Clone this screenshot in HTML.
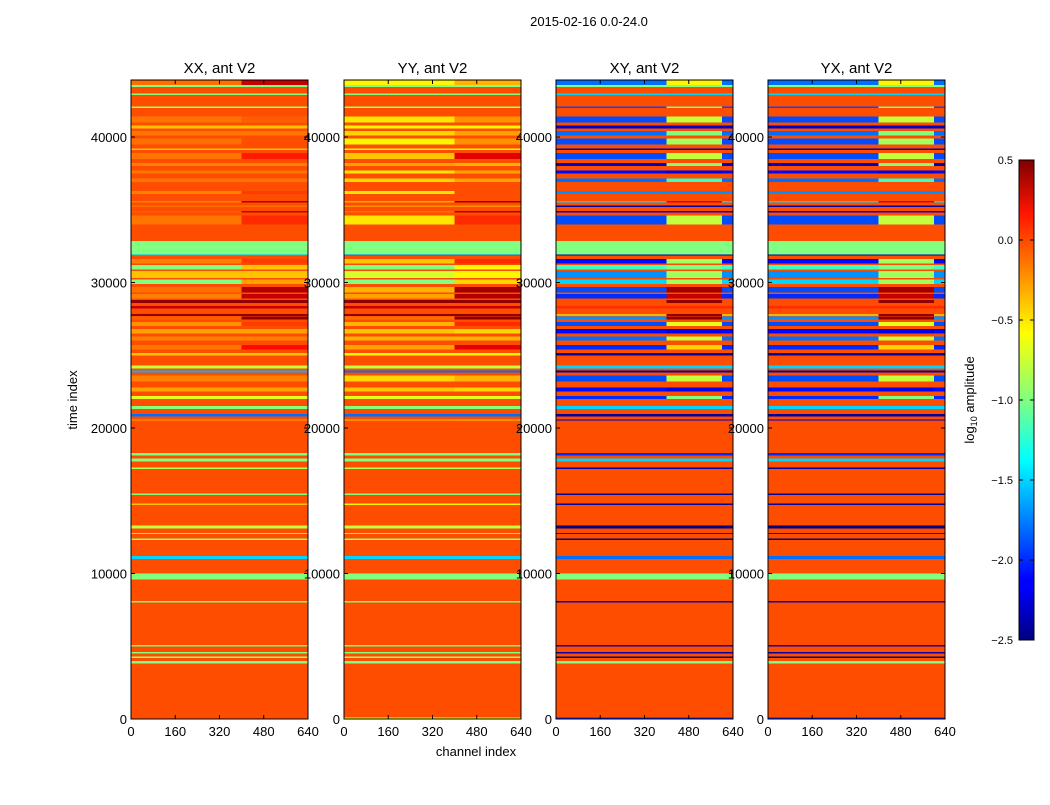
<!DOCTYPE html>
<html><head><meta charset="utf-8"><style>
body{margin:0;background:#fff;width:1050px;height:800px;overflow:hidden;font-family:"Liberation Sans",sans-serif}
svg text{font-family:"Liberation Sans",sans-serif}
</style></head><body>
<svg id="fig" width="1050" height="800" xmlns="http://www.w3.org/2000/svg">
<defs><linearGradient id="jet" x1="0" y1="1" x2="0" y2="0">
<stop offset="0" stop-color="#00007f"/><stop offset="0.11" stop-color="#0000ff"/><stop offset="0.125" stop-color="#0000ff"/>
<stop offset="0.34" stop-color="#00dcff"/><stop offset="0.375" stop-color="#00ffff"/><stop offset="0.5" stop-color="#80ff80"/>
<stop offset="0.64" stop-color="#ffff00"/><stop offset="0.89" stop-color="#ff1400"/><stop offset="1" stop-color="#800000"/></linearGradient></defs>
<text x="589" y="26" font-size="13" text-anchor="middle">2015-02-16 0.0-24.0</text>
<text x="476" y="756" font-size="13" text-anchor="middle">channel index</text>
<text transform="translate(77,400) rotate(-90)" font-size="13" text-anchor="middle">time index</text>
<text transform="translate(974,400) rotate(-90)" font-size="13" text-anchor="middle">log<tspan font-size="9" dy="3">10</tspan><tspan dy="-3"> amplitude</tspan></text>
<g id="panels"></g>
<rect x="1019" y="160" width="15" height="480" fill="url(#jet)" stroke="#000"/>
<g id="cbticks"></g>
</svg>
<script>
const titles=["XX, ant V2","YY, ant V2","XY, ant V2","YX, ant V2"];
const xTicks=[0,160,320,480,640];
const yTicks=[0,10000,20000,30000,40000];
const cbTicks=[0.5,0.0,-0.5,-1.0,-1.5,-2.0,-2.5];
const background=-0.1;
const tStart=[43500,43450,42900,42000,41000,40600,40100,39500,39100,38500,38000,37500,36900,36100,35500,35200,34800,34000,31900,31850,31300,30900,30300,29900,29300,28900,28600,28200,27700,27450,27000,26500,26000,25400,25000,24100,23800,23200,22500,22000,21300,20800,20500,18100,17700,17200,15400,14700,13100,12700,12300,11000,9600,8000,5000,4500,4200,3800,0];
const tEnd=[43920,43560,42990,42100,41400,40800,40400,39900,39200,38900,38200,37700,37150,36300,35600,35300,34900,34600,32850,31920,31600,31200,30800,30200,29700,29200,28800,28400,27850,27650,27300,26800,26300,25700,25150,24300,23950,23600,22800,22200,21500,20950,20600,18300,17900,17300,15500,14800,13300,12800,12400,11200,10000,8100,5100,4600,4300,4000,100];
const xxLeft=[-0.2,-1.0,-1.0,-0.9,-0.22,-0.45,-0.22,-0.2,-0.45,-0.22,-0.25,-0.22,-0.22,-0.25,-0.25,-0.2,-0.15,-0.22,-1.0,-1.6,-0.25,-1.0,-0.45,-1.0,-0.2,-0.25,0.45,0.3,0.45,-0.15,-0.3,-0.35,-0.25,-0.22,-0.45,-0.8,-1.6,-0.25,-0.35,-0.7,-1.0,-1.8,-0.35,-1.0,-1.0,-0.9,-1.0,-0.45,-0.8,-1.0,-0.9,-1.5,-1.0,-1.0,-1.0,-1.0,-0.9,-1.0,-0.1];
const xxRight=[0.3,-1.0,-1.0,-0.9,-0.15,-0.45,-0.22,-0.1,-0.45,0.05,-0.25,-0.22,-0.22,-0.05,0.35,-0.2,0.3,0.0,-1.0,-1.6,-0.05,-0.45,-0.45,-0.35,0.35,0.3,0.45,0.3,0.45,0.45,-0.05,-0.35,-0.25,0.1,-0.45,-0.8,-1.6,-0.25,-0.35,-0.7,-1.0,-1.8,-0.35,-1.0,-1.0,-0.9,-1.0,-0.45,-0.8,-1.0,-0.9,-1.5,-1.0,-1.0,-1.0,-1.0,-0.9,-1.0,-0.1];
const yyLeft=[-0.6,-1.0,-1.0,-0.9,-0.55,-0.6,-0.5,-0.6,-0.6,-0.45,-0.35,-0.55,-0.5,-0.55,-0.35,-0.3,-0.2,-0.55,-1.0,-1.8,-0.45,-1.0,-0.75,-1.0,-0.4,-0.35,0.45,0.3,0.45,-0.2,-0.4,-0.45,-0.4,-0.35,-0.6,-0.8,-1.8,-0.5,-0.45,-0.7,-1.0,-1.8,-0.45,-1.0,-1.0,-0.9,-1.0,-0.6,-0.8,-1.0,-0.9,-1.5,-1.0,-1.0,-1.0,-1.0,-0.9,-1.0,-0.6];
const yyRight=[-0.4,-1.0,-1.0,-0.9,-0.3,-0.6,-0.35,-0.3,-0.6,0.2,-0.4,-0.35,-0.35,-0.1,0.4,-0.3,0.35,0.0,-1.0,-1.8,0.0,-0.6,-0.6,-0.5,0.4,0.35,0.45,0.3,0.45,0.45,0.0,-0.5,-0.4,0.2,-0.6,-0.8,-1.8,-0.4,-0.5,-0.7,-1.0,-1.8,-0.5,-1.0,-1.0,-0.9,-1.0,-0.6,-0.8,-1.0,-0.9,-1.5,-1.0,-1.0,-1.0,-1.0,-0.9,-1.0,-0.6];
const xyLeft=[-1.8,-1.0,-1.5,-1.9,-1.9,-2.3,-1.8,-1.9,-2.3,-1.9,-2.3,-2.1,-1.8,-1.7,-1.5,-2.4,-2.3,-1.9,-1.0,-2.4,-2.1,-1.2,-1.7,-1.5,-1.9,-2.0,-0.1,0.0,-0.4,-1.7,-1.9,-2.1,-1.8,-2.0,-2.4,-1.5,-2.4,-1.9,-2.1,-2.0,-1.5,-2.4,-2.3,-2.0,-1.5,-2.4,-2.4,-2.4,-2.5,-2.2,-2.5,-1.8,-1.0,-2.4,-2.4,-2.4,-2.5,-1.0,-2.0];
const xyRight=[-0.6,-1.0,-1.5,-1.0,-0.8,-2.3,-1.0,-0.9,-2.3,-0.8,-1.0,-2.2,-1.2,-1.7,0.2,-2.4,-2.3,-0.8,-1.0,-2.4,-0.9,-1.0,-0.9,-0.9,0.4,0.3,0.45,0.0,0.45,0.45,-0.7,-2.2,-0.8,-0.5,-2.4,-1.5,-2.4,-0.8,-2.2,-1.0,-1.5,-2.4,-2.3,-2.0,-1.5,-2.4,-2.4,-2.4,-2.5,-2.2,-2.5,-1.8,-1.0,-2.4,-2.4,-2.4,-2.5,-1.0,-2.0];
const panelX=[131,344,556,768], panelW=177, yTop=80, yBottom=719, tMax=43920, vmin=-2.5, vmax=0.5, splitA=400, splitB=600;
const NS="http://www.w3.org/2000/svg";
function jet(v){let x=Math.max(0,Math.min(1,(v-vmin)/(vmax-vmin)));const c=f=>Math.round(255*Math.max(0,Math.min(1,f)));return `rgb(${c(1.5-Math.abs(4*x-3))},${c(1.5-Math.abs(4*x-2))},${c(1.5-Math.abs(4*x-1))})`;}
function yS(t){return yBottom-(t/tMax)*(yBottom-yTop);}
function mk(tag,attrs,parent){const e=document.createElementNS(NS,tag);for(const k in attrs)e.setAttribute(k,attrs[k]);parent.appendChild(e);return e;}
const root=document.getElementById('panels');
const series=[[xxLeft,xxRight,640],[yyLeft,yyRight,640],[xyLeft,xyRight,splitB],[xyLeft,xyRight,splitB]];
for(let p=0;p<4;p++){
 const x0=panelX[p],xS=c=>x0+c/640*panelW;
 const g=mk('g',{},root);
 
 
 const bg=mk('rect',{x:x0,y:yTop,width:panelW,height:yBottom-yTop,fill:jet(background)},g);
 
 
 const [L,R,rEnd]=series[p];
 for(let i=0;i<tStart.length;i++){
  const y1=yS(tEnd[i]),y2=yS(tStart[i]),h=Math.max(1,y2-y1);
  const segs=[[0,splitA,L[i]],[splitA,rEnd,R[i]],[rEnd,640,L[i]]];
  for(const s of segs){ if(s[1]<=s[0])continue;
   const r=mk('rect',{x:xS(s[0]),y:y1,width:xS(s[1])-xS(s[0]),height:h,fill:jet(s[2]),'shape-rendering':'crispEdges'},g);
   
   
  }
 }
 mk('rect',{x:x0,y:yTop,width:panelW,height:yBottom-yTop,fill:'none',stroke:'#000','stroke-width':1},g);
 const t=mk('text',{x:x0+panelW/2,y:yTop-7,'font-size':15,'text-anchor':'middle'},g);t.textContent=titles[p];
 
 
 for(const v of xTicks){const x=xS(v);
  mk('line',{x1:x,x2:x,y1:yBottom,y2:yBottom-4,stroke:'#000'},g);mk('line',{x1:x,x2:x,y1:yTop,y2:yTop+4,stroke:'#000'},g);
  const lt=mk('text',{x:x,y:yBottom+17,'font-size':13,'text-anchor':'middle'},g);lt.textContent=v;
  
  }
 for(const v of yTicks){const y=yS(v);
  mk('line',{x1:x0,x2:x0+4,y1:y,y2:y,stroke:'#000'},g);mk('line',{x1:x0+panelW,x2:x0+panelW-4,y1:y,y2:y,stroke:'#000'},g);
  const lt=mk('text',{x:x0-4,y:y+5,'font-size':13,'text-anchor':'end'},g);lt.textContent=v;
  
  }
}
const cg=document.getElementById('cbticks');
for(const v of cbTicks){const y=640-(v-vmin)/(vmax-vmin)*480;
 mk('line',{x1:1019,x2:1023,y1:y,y2:y,stroke:'#000'},cg);
 mk('line',{x1:1030,x2:1034,y1:y,y2:y,stroke:'#000'},cg);
 const lt=mk('text',{x:1013,y:y+4,'font-size':11,'text-anchor':'end'},cg);lt.textContent=v.toFixed(1).replace('-','−');
 
 }
</script>
</body></html>
